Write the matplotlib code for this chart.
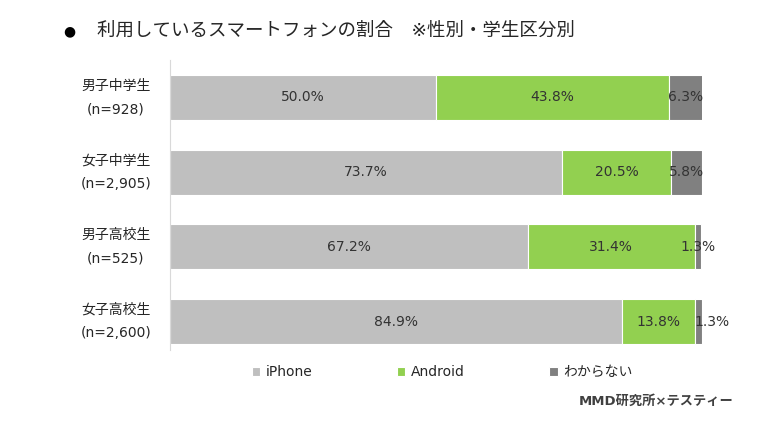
import matplotlib
matplotlib.use('Agg')
import matplotlib.pyplot as plt
import numpy as np

plt.rcParams['font.family'] = ['DejaVu Sans', 'Noto Sans CJK JP']

categories = ['男子中学生\n(n=928)', '女子中学生\n(n=2,905)', '男子高校生\n(n=525)', '女子高校生\n(n=2,600)']
iphone = [50.0, 73.7, 67.2, 84.9]
android = [43.8, 20.5, 31.4, 13.8]
unknown = [6.3, 5.8, 1.3, 1.3]
series_names = ['iPhone', 'Android', 'わからない']
colors = ['#BFBFBF', '#92D050', '#808080']

fig = plt.figure(figsize=(7.79, 4.25), dpi=100)
ax = fig.add_axes([170/779, 1-359/425, 532/779, 299/425])

y = np.arange(len(categories))
left = np.zeros(len(categories))
for vals, name, col in zip([iphone, android, unknown], series_names, colors):
    vals = np.array(vals)
    ax.barh(y, vals, left=left, height=0.6, color=col, edgecolor='white', linewidth=0.8, label=name)
    for i, v in enumerate(vals):
        dx = 0
        if name == 'わからない' and i == 3:
            dx = 10
        ax.annotate(f'{v:.1f}%', (left[i] + v/2, y[i]), xytext=(dx, 0), textcoords='offset points',
                    ha='center', va='center', fontsize=10, color='#333333')
    left += vals

ax.set_xlim(0, 100)
ax.set_ylim(3.5, -0.5)
ax.set_yticks(y)
ax.set_yticklabels(categories, fontsize=10, color='#262626', linespacing=1.85, ha='center', va='center')
ax.tick_params(axis='y', length=0, pad=39)
ax.set_xticks([])
for s in ['top', 'right', 'bottom']:
    ax.spines[s].set_visible(False)
ax.spines['left'].set_color('#D9D9D9')
ax.spines['left'].set_bounds(-0.5, 3.38)

fig.text(63/779, 1-31/425, '●', fontsize=10, va='center', ha='left', color='#000000')
fig.text(97/779, 1-31/425, '利用しているスマートフォンの割合　※性別・学生区分別', fontsize=13.3,
         va='center', ha='left', color='#262626')

leg = fig.legend(loc='center left', bbox_to_anchor=(246/779, 1-372/425), ncol=3, frameon=False,
                 handlelength=0.6, handleheight=0.6, handletextpad=0.4, columnspacing=6.1,
                 borderaxespad=0, fontsize=10)
for t in leg.get_texts():
    t.set_color('#262626')

fig.text(733/779, 1-401/425, 'MMD研究所×テスティー', fontsize=9.5, fontweight='bold',
         ha='right', va='center', color='#404040')

fig.savefig('out.png', dpi=100)
